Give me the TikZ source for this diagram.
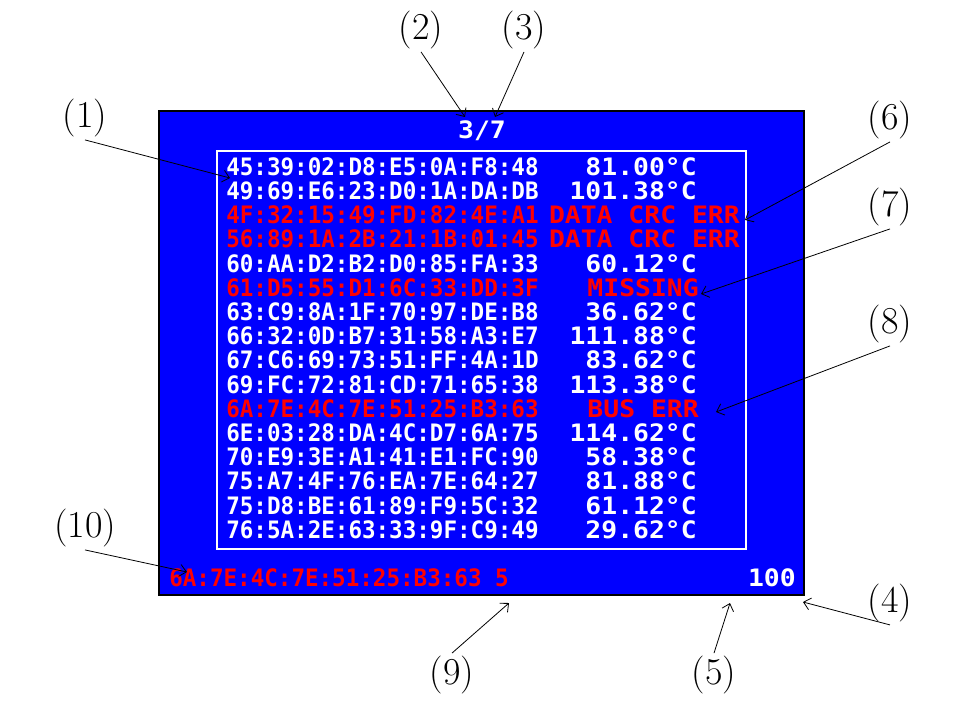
\documentclass[tikz,border=0pt]{standalone}
\usepackage{fontspec}
\usetikzlibrary{arrows.meta}
\newfontfamily\macfont{DejaVu Sans Mono}[FakeStretch=0.94]
\newfontfamily\valfont{DejaVu Sans Mono}[FakeStretch=1.10]
\definecolor{lcdblue}{RGB}{0,0,255}
\definecolor{lcdred}{RGB}{255,0,0}
\tikzset{
  mac/.style={anchor=base west, inner sep=0pt, font=\macfont\bfseries\fontsize{18}{20}\selectfont},
  val/.style={anchor=base east, inner sep=0pt, font=\valfont\bfseries\fontsize{18}{20}\selectfont},
  callout/.style={inner sep=2pt, font=\fontsize{28.5}{34}\selectfont},
}

\begin{document}
\begin{tikzpicture}[x=0.75pt,y=-0.75pt,>={Straight Barb[length=5pt,width=9pt]}]
    \useasboundingbox (0,0) rectangle (962,707);

    % screen
    \draw[fill=lcdblue, line width=0.8pt] (159,111) rectangle (804,595);
    \draw[white, line width=1.5pt] (217,151) rectangle (746,549);

    \node[val, anchor=base, text=white] (page) at (482,138) {3/7};

    \foreach \mac/\val/\col/\vx [count=\i] in {
        45:39:02:D8:E5:0A:F8:48/81.00°C/white/697,
        49:69:E6:23:D0:1A:DA:DB/101.38°C/white/697,
        4F:32:15:49:FD:82:4E:A1/DATA CRC ERR/lcdred/740,
        56:89:1A:2B:21:1B:01:45/DATA CRC ERR/lcdred/740,
        60:AA:D2:B2:D0:85:FA:33/60.12°C/white/697,
        61:D5:55:D1:6C:33:DD:3F/MISSING/lcdred/699,
        63:C9:8A:1F:70:97:DE:B8/36.62°C/white/697,
        66:32:0D:B7:31:58:A3:E7/111.88°C/white/697,
        67:C6:69:73:51:FF:4A:1D/83.62°C/white/697,
        69:FC:72:81:CD:71:65:38/113.38°C/white/697,
        6A:7E:4C:7E:51:25:B3:63/BUS ERR/lcdred/699,
        6E:03:28:DA:4C:D7:6A:75/114.62°C/white/697,
        70:E9:3E:A1:41:E1:FC:90/58.38°C/white/697,
        75:A7:4F:76:EA:7E:64:27/81.88°C/white/697,
        75:D8:BE:61:89:F9:5C:32/61.12°C/white/697,
        76:5A:2E:63:33:9F:C9:49/29.62°C/white/697}
    {
        \node[mac, text=\col] (mac\i) at (226,{175.2+24.2*(\i-1)}) {\mac};
        \node[val, text=\col] (val\i) at (\vx,{175.2+24.2*(\i-1)}) {\val};
    }

    \node[mac, text=lcdred] (last) at (169,586) {6A:7E:4C:7E:51:25:B3:63 5};
    \node[val, text=white] (count) at (796,586) {100};

    % callouts
    \node[callout] (c1) at (85,118) {(1)};
    \node[callout] (c2) at (421,30) {(2)};
    \node[callout] (c3) at (524,30) {(3)};
    \node[callout] (c4) at (890,603) {(4)};
    \node[callout] (c5) at (714,675) {(5)};
    \node[callout] (c6) at (890,120) {(6)};
    \node[callout] (c7) at (890,207) {(7)};
    \node[callout] (c8) at (890,324) {(8)};
    \node[callout] (c9) at (452,675) {(9)};
    \node[callout] (c10) at (85,528) {(10)};

    \coordinate (t1) at (230,178);
    \coordinate (t2) at (465,117);
    \coordinate (t3) at (495,117);
    \coordinate (t4) at (803,602);
    \coordinate (t5) at (730,603);
    \coordinate (t6) at (745,220);
    \coordinate (t7) at (701,294);
    \coordinate (t8) at (716,412);
    \coordinate (t9) at (509,603);
    \coordinate (t10) at (187,572);

    \begin{scope}[line width=0.6pt]
    \draw[->] (c1.south) -- (t1);
    \draw[->] (c2.south) -- (t2);
    \draw[->] (c3.south) -- (t3);
    \draw[->] (c4.south) -- (t4);
    \draw[->] (c5.north) -- (t5);
    \draw[->] (c6.south) -- (t6);
    \draw[->] (c7.south) -- (t7);
    \draw[->] (c8.south) -- (t8);
    \draw[->] (c9.north) -- (t9);
    \draw[->] (c10.south) -- (t10);
    \end{scope}
\end{tikzpicture}
\end{document}
